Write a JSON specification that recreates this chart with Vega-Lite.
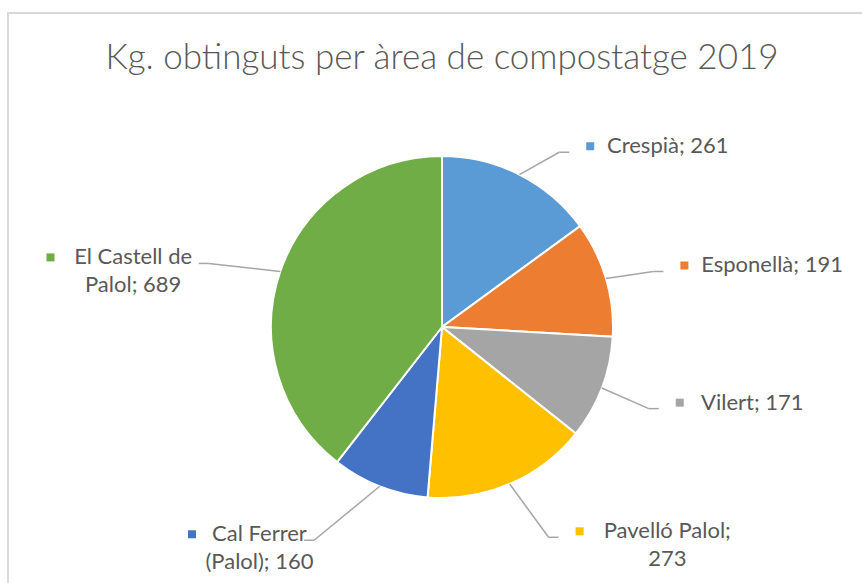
{
  "$schema": "https://vega.github.io/schema/vega-lite/v6.json",
  "autosize": {"type": "none"},
  "padding": {"left": 8, "top": 13, "right": 0, "bottom": 0},
  "width": 868,
  "height": 628,
  "background": "white",
  "config": {
    "view": {"stroke": "#d9d9d9", "strokeWidth": 2},
    "font": "Lato"
  },
  "title": {
    "text": "Kg. obtinguts per àrea de compostatge 2019",
    "font": "Lato",
    "fontSize": 35,
    "fontWeight": 300,
    "color": "#595959",
    "anchor": "middle",
    "baseline": "alphabetic",
    "offset": -91
  },
  "data": {
    "values": [
      {"i": 1, "name": "Crespià", "value": 261, "l1": "Crespià; 261", "l2": ""},
      {"i": 2, "name": "Esponellà", "value": 191, "l1": "Esponellà; 191", "l2": ""},
      {"i": 3, "name": "Vilert", "value": 171, "l1": "Vilert; 171", "l2": ""},
      {"i": 4, "name": "Pavelló Palol", "value": 273, "l1": "Pavelló Palol;", "l2": "273"},
      {"i": 5, "name": "Cal Ferrer (Palol)", "value": 160, "l1": "Cal Ferrer", "l2": "(Palol); 160"},
      {"i": 6, "name": "El Castell de Palol", "value": 689, "l1": "El Castell de", "l2": "Palol; 689"}
    ]
  },
  "transform": [
    {"joinaggregate": [{"op": "sum", "field": "value", "as": "total"}]},
    {"window": [{"op": "sum", "field": "value", "as": "cum"}], "sort": [{"field": "i"}], "frame": [null, 0]},
    {"calculate": "(datum.cum - datum.value / 2) / datum.total * 2 * PI", "as": "a"},
    {"calculate": "sin(datum.a) >= 0 ? 1 : -1", "as": "s"},
    {"calculate": "171 * sin(datum.a)", "as": "ex"},
    {"calculate": "171 * cos(datum.a)", "as": "ey"},
    {"calculate": "datum.ex + (datum.s > 0 ? 33 + 15 * abs(sin(datum.a)) : -(62 + 10 * abs(sin(datum.a))))", "as": "bx"},
    {"calculate": "datum.ey + (cos(datum.a) > 0 ? 25 : 58) * cos(datum.a)", "as": "by"},
    {"calculate": "datum.bx + datum.s * 10", "as": "hx"},
    {"calculate": "length(datum.l1) * 10.1", "as": "w1"},
    {"calculate": "length(datum.l2) * 10.1", "as": "w2"},
    {"calculate": "datum.s > 0 ? datum.hx + 38 + datum.w1 / 2 : datum.hx - max(datum.w1, datum.w2) / 2 + (cos(datum.a) < 0 ? 16 : 0)", "as": "c"},
    {"calculate": "datum.c - datum.w1 / 2 - 17", "as": "mx"},
    {"calculate": "datum.by + 6", "as": "ty1"},
    {"calculate": "datum.by + 6 - 28", "as": "ty2"}
  ],
  "layer": [
    {
      "mark": {"type": "arc", "outerRadius": 171, "stroke": "white", "strokeWidth": 2},
      "encoding": {
        "theta": {"field": "value", "type": "quantitative", "stack": true},
        "order": {"field": "i", "type": "quantitative", "sort": "ascending"},
        "color": {
          "field": "name", "type": "nominal", "legend": null,
          "scale": {
            "domain": ["Crespià", "Esponellà", "Vilert", "Pavelló Palol", "Cal Ferrer (Palol)", "El Castell de Palol"],
            "range": ["#5b9bd5", "#ed7d31", "#a5a5a5", "#ffc000", "#4472c4", "#70ad47"]
          }
        }
      }
    },
    {
      "mark": {"type": "rule", "color": "#a6a6a6", "strokeWidth": 1.5},
      "encoding": {
        "x": {"field": "ex", "type": "quantitative", "axis": null, "scale": {"domain": [-434, 434], "nice": false, "zero": false}},
        "y": {"field": "ey", "type": "quantitative", "axis": null, "scale": {"domain": [-314, 314], "nice": false, "zero": false}},
        "x2": {"field": "bx"},
        "y2": {"field": "by"}
      }
    },
    {
      "mark": {"type": "rule", "color": "#a6a6a6", "strokeWidth": 1.5},
      "encoding": {
        "x": {"field": "bx", "type": "quantitative"},
        "y": {"field": "by", "type": "quantitative"},
        "x2": {"field": "hx"},
        "y2": {"field": "by"}
      }
    },
    {
      "mark": {"type": "square", "size": 64, "opacity": 1, "filled": true},
      "encoding": {
        "x": {"field": "mx", "type": "quantitative"},
        "y": {"field": "ty1", "type": "quantitative"},
        "color": {"field": "name", "type": "nominal", "legend": null}
      }
    },
    {
      "mark": {"type": "text", "align": "center", "baseline": "middle", "font": "Lato", "fontSize": 22, "color": "#595959"},
      "encoding": {
        "x": {"field": "c", "type": "quantitative"},
        "y": {"field": "ty1", "type": "quantitative"},
        "text": {"field": "l1"}
      }
    },
    {
      "transform": [{"filter": "datum.l2 != ''"}],
      "mark": {"type": "text", "align": "center", "baseline": "middle", "font": "Lato", "fontSize": 22, "color": "#595959"},
      "encoding": {
        "x": {"field": "c", "type": "quantitative"},
        "y": {"field": "ty2", "type": "quantitative"},
        "text": {"field": "l2"}
      }
    }
  ]
}
